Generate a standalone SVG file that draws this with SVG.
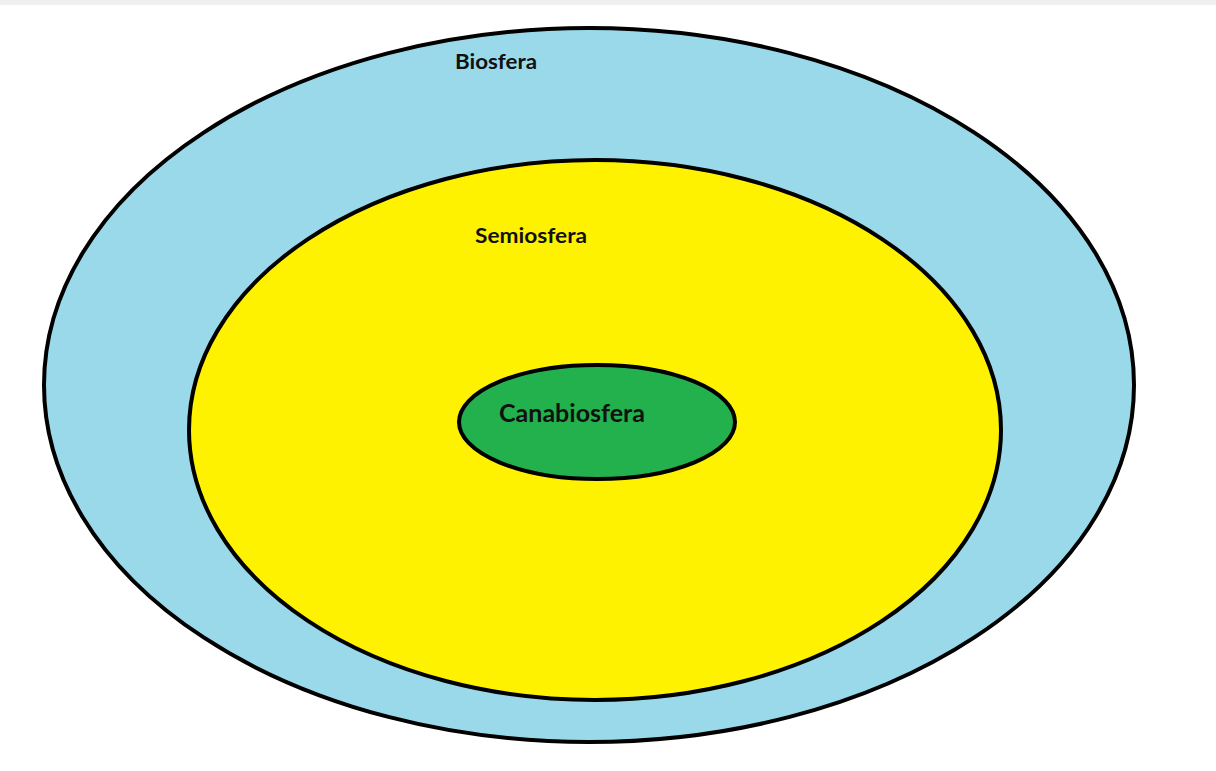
<svg xmlns="http://www.w3.org/2000/svg" width="1216" height="771" viewBox="0 0 1216 771">
<style>
.ring{stroke:#000;stroke-width:4}
.lbl{font-family:Lato,"Open Sans",sans-serif;font-weight:bold;fill:#111}
</style>
<rect width="1216" height="771" fill="#fff"/>
<rect width="1216" height="5" fill="#efefef"/>
<g id="biosfera">
<ellipse class="ring" cx="589" cy="385" rx="545" ry="357" fill="#9ad9ea"/>
<text class="lbl" x="455" y="69" font-size="21" textLength="82" lengthAdjust="spacingAndGlyphs">Biosfera</text>
</g>
<g id="semiosfera">
<ellipse class="ring" cx="595" cy="430" rx="406" ry="270" fill="#fff200"/>
<text class="lbl" x="475" y="243" font-size="21" textLength="112" lengthAdjust="spacingAndGlyphs">Semiosfera</text>
</g>
<g id="canabiosfera">
<ellipse class="ring" cx="597" cy="422" rx="138" ry="57" fill="#22b14c"/>
<text class="lbl" x="499" y="422" font-size="24" textLength="146" lengthAdjust="spacingAndGlyphs">Canabiosfera</text>
</g>
<g id="connectors"></g>
</svg>
